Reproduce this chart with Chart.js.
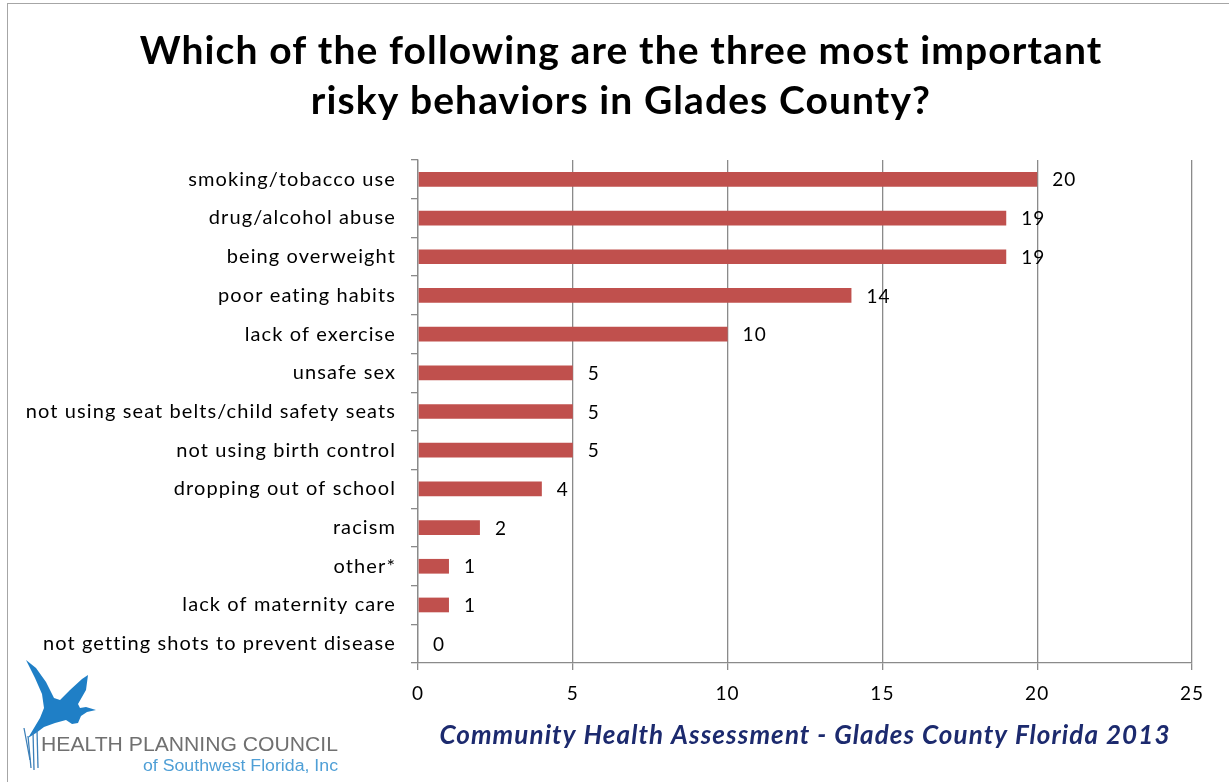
<!DOCTYPE html>
<html>
<head>
<meta charset="utf-8">
<script src="https://cdn.jsdelivr.net/npm/chart.js@4.4.1/dist/chart.umd.min.js"></script>
<style>
  html, body { margin: 0; padding: 0; background: #fff; }
  canvas { display: block; }
</style>
</head>
<body>
<canvas id="myChart" width="1229" height="782"></canvas>
<script>
const behaviors = [
  "smoking/tobacco use",
  "drug/alcohol abuse",
  "being overweight",
  "poor eating habits",
  "lack of exercise",
  "unsafe sex",
  "not using seat belts/child safety seats",
  "not using birth control",
  "dropping out of school",
  "racism",
  "other*",
  "lack of maternity care",
  "not getting shots to prevent disease",
];
const responses = [20, 19, 19, 14, 10, 5, 5, 5, 4, 2, 1, 1, 0];
const xTicks = [0, 5, 10, 15, 20, 25];

const titleLines = [
  "Which of the following are the three most important",
  "risky behaviors in Glades County?",
];
const footerText = "Community Health Assessment - Glades County Florida 2013";

const barColor = "#C0504D";
const gridColor = "#8a8a8a";
const font = "Lato";

Chart.defaults.color = "#000";
Chart.defaults.font.family = font;

// slightly looser letter spacing for all text on the canvas
const spacing = {
  id: "spacing",
  beforeLayout(chart) {
    chart.ctx.letterSpacing = "1.1px";
  },
  beforeDraw(chart) {
    chart.ctx.letterSpacing = "1.1px";
  },
};

// two-line heading, centred on the whole canvas
const heading = {
  id: "heading",
  afterDraw(chart) {
    const ctx = chart.ctx;
    ctx.save();
    ctx.letterSpacing = "1.1px";
    ctx.font = "bold 39px " + font;
    ctx.fillStyle = "#000";
    ctx.textAlign = "center";
    ctx.textBaseline = "middle";
    titleLines.forEach((line, i) => {
      ctx.fillText(line, 621, 51 + i * 50);
    });
    ctx.restore();
  },
};

// value next to the end of each bar
const valueLabels = {
  id: "valueLabels",
  afterDatasetsDraw(chart) {
    const ctx = chart.ctx;
    const meta = chart.getDatasetMeta(0);
    ctx.save();
    ctx.font = "19px " + font;
    ctx.fillStyle = "#000";
    ctx.textAlign = "left";
    ctx.textBaseline = "middle";
    meta.data.forEach((bar, i) => {
      ctx.fillText(responses[i], bar.x + 15, bar.y + 1);
    });
    ctx.restore();
  },
};

// frame and the council logo in the lower left corner
const frameAndLogo = {
  id: "frameAndLogo",
  afterDraw(chart) {
    const ctx = chart.ctx;
    ctx.save();
    ctx.strokeStyle = "#a6a6a6";
    ctx.lineWidth = 1;
    ctx.strokeRect(7.5, 3.5, 1240, 800);

    // heron
    ctx.fillStyle = "#1f7fc6";
    ctx.beginPath();
    ctx.moveTo(26, 660);
    ctx.lineTo(36, 668);
    ctx.lineTo(46, 682);
    ctx.lineTo(54, 698);
    ctx.lineTo(60, 700);
    ctx.lineTo(70, 690);
    ctx.lineTo(82, 679);
    ctx.lineTo(88, 675);
    ctx.lineTo(86, 690);
    ctx.lineTo(78, 704);
    ctx.lineTo(80, 708);
    ctx.lineTo(86, 707);
    ctx.lineTo(96, 710);
    ctx.lineTo(87, 712);
    ctx.lineTo(81, 716);
    ctx.lineTo(78, 723);
    ctx.lineTo(72, 724);
    ctx.lineTo(66, 720);
    ctx.lineTo(55, 723);
    ctx.lineTo(44, 727);
    ctx.lineTo(36, 733);
    ctx.lineTo(28, 738);
    ctx.lineTo(34, 728);
    ctx.lineTo(40, 718);
    ctx.lineTo(44, 708);
    ctx.lineTo(42, 694);
    ctx.lineTo(35, 678);
    ctx.closePath();
    ctx.fill();

    // reeds
    ctx.strokeStyle = "#3c7fb8";
    ctx.lineWidth = 1.3;
    [[28, 736, 31, 768], [33, 732, 34, 770], [37, 730, 38, 768], [24, 728, 30, 760]].forEach((r) => {
      ctx.beginPath();
      ctx.moveTo(r[0], r[1]);
      ctx.lineTo(r[2], r[3]);
      ctx.stroke();
    });

    ctx.letterSpacing = "0px";
    ctx.textBaseline = "middle";
    ctx.textAlign = "left";
    ctx.fillStyle = "#707070";
    ctx.font = "21px 'Liberation Sans'";
    let name = "HEALTH PLANNING COUNCIL";
    let w = ctx.measureText(name).width;
    ctx.save();
    ctx.translate(41, 745);
    ctx.scale(297 / w, 1);
    ctx.fillText(name, 0, 0);
    ctx.restore();

    ctx.fillStyle = "#4f9fd6";
    ctx.font = "16px 'Liberation Sans'";
    let sub = "of Southwest Florida, Inc";
    w = ctx.measureText(sub).width;
    ctx.save();
    ctx.translate(143, 767);
    ctx.scale(195 / w, 1);
    ctx.fillText(sub, 0, 0);
    ctx.restore();
    ctx.restore();
  },
};

const ctx = document.getElementById("myChart").getContext("2d");

const myChart = new Chart(ctx, {
  type: "bar",
  data: {
    labels: behaviors,
    datasets: [
      {
        data: responses,
        backgroundColor: barColor,
        borderWidth: 0,
        barPercentage: 0.38,
        categoryPercentage: 1,
      },
    ],
  },
  options: {
    indexAxis: "y",
    responsive: false,
    animation: false,
    layout: { padding: { left: 0, right: 37, top: 160, bottom: 31 } },
    plugins: {
      legend: { display: false },
      tooltip: { enabled: false },
      title: { display: false },
    },
    scales: {
      x: {
        min: 0,
        max: 25,
        afterBuildTicks: (scale) => {
          scale.ticks = xTicks.map((v) => ({ value: v }));
        },
        afterFit: (scale) => {
          scale.height = 88;
        },
        grid: { color: gridColor, lineWidth: 1.3, tickLength: 7 },
        border: { color: gridColor, width: 1.3 },
        ticks: { font: { size: 19 }, padding: 12, maxRotation: 0 },
        title: {
          display: true,
          text: footerText,
          color: "#1c2a6e",
          font: { family: font, size: 26, weight: "bold", style: "italic" },
          padding: 0,
        },
      },
      y: {
        afterFit: (scale) => {
          scale.width = 418;
        },
        grid: { drawOnChartArea: false, color: gridColor, lineWidth: 1.3, tickLength: 7 },
        border: { color: gridColor, width: 1.3 },
        ticks: { font: { size: 20 }, padding: 15, autoSkip: false },
      },
    },
  },
  plugins: [spacing, heading, valueLabels, frameAndLogo],
});
</script>
</body>
</html>
